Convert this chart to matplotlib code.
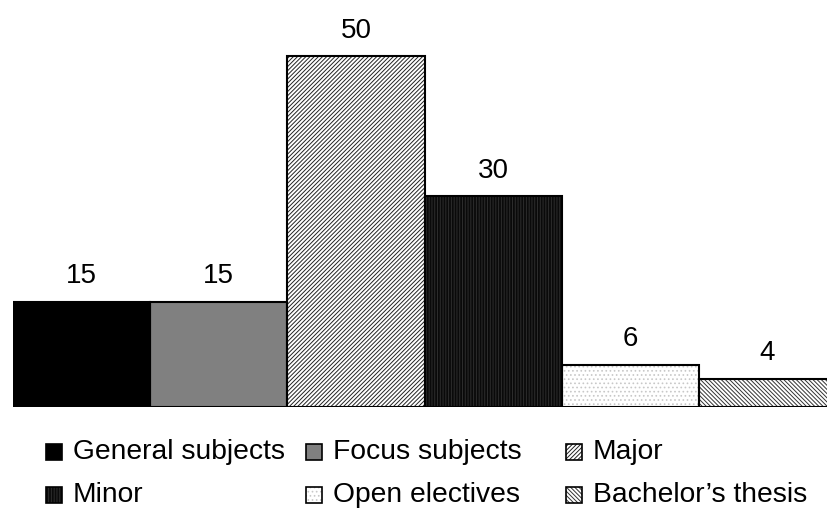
import matplotlib.pyplot as plt
from matplotlib.patches import Rectangle

plt.rcParams['font.family'] = ['Liberation Sans', 'DejaVu Sans']
plt.rcParams['hatch.linewidth'] = 0.7

categories = ["General subjects", "Focus subjects", "Major",
              "Minor", "Open electives", "Bachelor\u2019s thesis"]
credits = [15, 15, 50, 30, 6, 4]

# fill, hatch colour, hatch pattern for each block
faces = ["black", "#808080", "white", "#0a0a0a", "white", "white"]
hatch_colors = ["black", "#808080", "#222222", "#2e2e2e", "#c8c8c8", "#333333"]
hatches = [None, None, "////////", "||||||", "....", "\\\\\\\\\\\\\\\\"]

fig = plt.figure(figsize=(8.27, 5.09), dpi=100)
ax = fig.add_axes([13 / 827, 102 / 509, 814 / 827, 407 / 509])

x = list(range(len(credits)))
ax.bar(x, credits, width=1.0, align="edge", color=faces,
       edgecolor=hatch_colors, hatch=hatches, linewidth=0)
bars = ax.bar(x, credits, width=1.0, align="edge", fill=False,
              edgecolor="black", linewidth=1.5)

for rect, v in zip(bars, credits):
    ax.annotate(str(v), (rect.get_x() + rect.get_width() / 2, v),
                xytext=(0, 9), textcoords="offset points",
                ha="center", va="bottom", fontsize=20)

ax.axhline(0, color="black", linewidth=1.2)
ax.set_xlim(0, 5.933)
ax.set_ylim(0, 57.98)
ax.axis("off")

# legend laid out in fixed-width columns
for i, label in enumerate(categories):
    row, col = divmod(i, 3)
    x0 = 46 + col * 260
    y0 = 452 + row * 43
    fig.add_artist(Rectangle((x0 / 827, 1 - (y0 + 8) / 509), 16 / 827, 16 / 509,
                             facecolor=faces[i], edgecolor=hatch_colors[i],
                             hatch=hatches[i], linewidth=0,
                             transform=fig.transFigure))
    fig.add_artist(Rectangle((x0 / 827, 1 - (y0 + 8) / 509), 16 / 827, 16 / 509,
                             fill=False, edgecolor="black", linewidth=1.2,
                             transform=fig.transFigure))
    fig.text((x0 + 27) / 827, 1 - y0 / 509, label, fontsize=20.3,
             ha="left", va="center")

fig.savefig("out.png", dpi=100)
